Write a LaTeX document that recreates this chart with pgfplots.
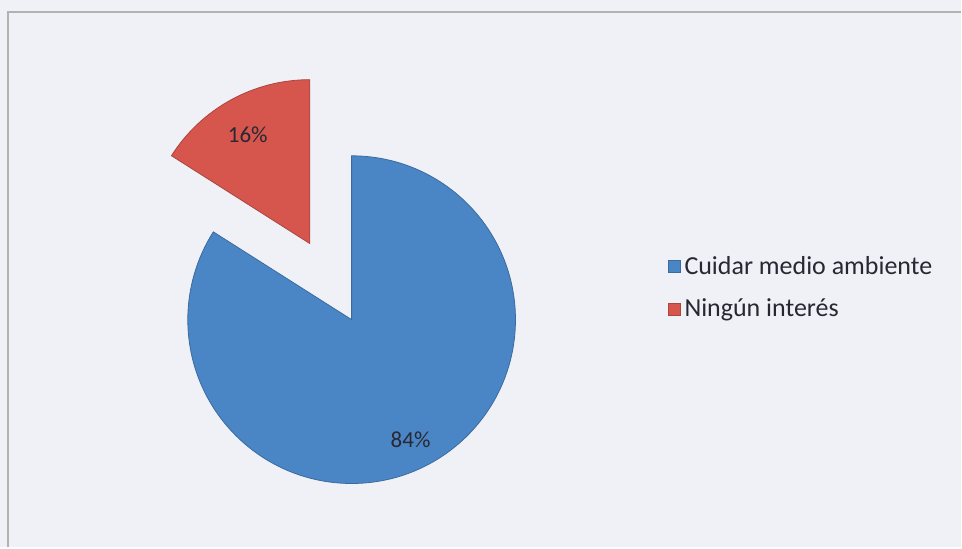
\documentclass[border=0pt]{standalone}
\usepackage{pgfplots}
\usepackage{pgfplotstable}
\usepackage{fontspec}
\setmainfont{Carlito}
\pgfplotsset{compat=1.18}
\definecolor{pieblue}{RGB}{74,134,197}
\definecolor{piered}{RGB}{214,86,78}
\definecolor{bgc}{RGB}{239,241,247}
\definecolor{txt}{RGB}{40,40,50}
% share of each slice, in percent
\pgfplotstableread{
label value
Cuidar 84
Ningun 16
}\piedata
\begin{document}
\begin{tikzpicture}
\pgfplotstablegetelem{0}{value}\of\piedata \let\va\pgfplotsretval
\pgfplotstablegetelem{1}{value}\of\piedata \let\vb\pgfplotsretval
\pgfmathsetmacro\aend{90-3.6*\va}
\pgfmathsetmacro\bend{\aend-3.6*\vb}
\pgfmathsetmacro\bmid{(\aend+\bend)/2}
\begin{axis}[scale only axis, width=481pt, height=274pt,
  xmin=0, xmax=962, ymin=0, ymax=548, hide axis, clip=false,
  legend style={at={(axis cs:662,300)}, anchor=north west, draw=none, fill=none,
    font=\fontsize{13}{15}\selectfont\color{txt}, row sep=7pt,
    /tikz/every even column/.append style={column sep=1pt}},
  legend cell align=left,
  legend image code/.code={\draw[#1] (0pt,-3pt) rectangle (6pt,3pt);}]
\fill[bgc] (axis cs:0,0) rectangle (axis cs:962,548);
\draw[black!30, line width=1pt] (axis cs:8,0) -- (axis cs:8,536) -- (axis cs:962,536);
% big slice
\draw[pieblue!80!black, fill=pieblue, line width=0.4pt]
  (axis cs:352,228) -- ++(90:82pt) arc[start angle=90, end angle=\aend, radius=82pt] -- cycle;
% exploded slice
\draw[piered!80!black, fill=piered, line width=0.4pt, shift={(\bmid:43.5pt)}]
  (axis cs:352,228) -- ++(\aend:82pt) arc[start angle=\aend, end angle=\bend, radius=82pt] -- cycle;
\node[txt, font=\fontsize{11.5}{13}\selectfont] at (axis cs:248,413) {16\%};
\node[txt, font=\fontsize{11.5}{13}\selectfont] at (axis cs:411,108) {84\%};
\addlegendimage{fill=pieblue, draw=pieblue!80!black}
\addlegendentry{Cuidar medio ambiente}
\addlegendimage{fill=piered, draw=piered!80!black}
\addlegendentry{Ningún interés}
\end{axis}
\end{tikzpicture}
\end{document}
